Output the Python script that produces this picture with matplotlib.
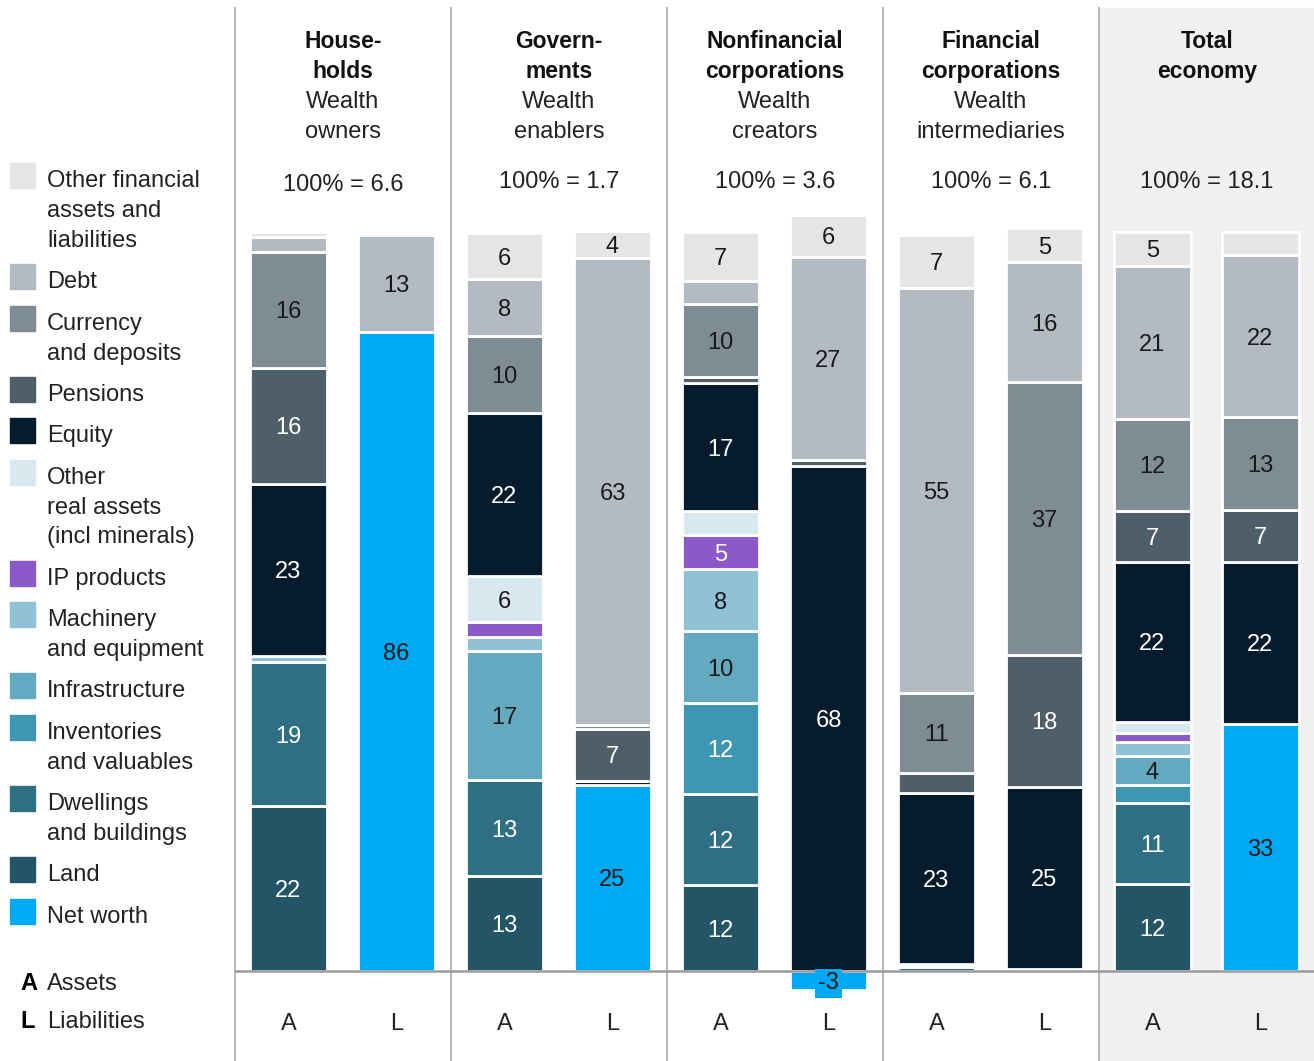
import matplotlib.pyplot as plt
from matplotlib.patches import Rectangle

plt.rcParams['font.family'] = ['Liberation Sans', 'DejaVu Sans']

# sectors and bars: each sector has an asset (A) and a liability (L) bar
sectors = ["House-\nholds", "Govern-\nments", "Nonfinancial\ncorporations",
           "Financial\ncorporations", "Total\neconomy"]
roles = ["Wealth\nowners", "Wealth\nenablers", "Wealth\ncreators",
         "Wealth\nintermediaries", ""]
totals = ["6.6", "1.7", "3.6", "6.1", "18.1"]

# share of total (%), bar order: HH A, HH L, Gov A, Gov L, NFC A, NFC L, FC A, FC L, Tot A, Tot L
net_worth      = [0, 86.4, 0, 25.2, 0, -2.6, 0, 0.3, 0, 33.4]
land           = [22.3, 0, 12.8, 0, 11.6, 0, 0, 0, 11.8, 0]
dwellings      = [19.4, 0, 13.0, 0, 12.3, 0, 0.5, 0, 10.9, 0]
inventories    = [0, 0, 0, 0, 12.3, 0, 0, 0, 2.4, 0]
infrastructure = [0, 0, 17.4, 0, 9.7, 0, 0, 0, 3.9, 0]
machinery      = [0.9, 0, 1.9, 0, 8.4, 0, 0, 0, 2.0, 0]
ip_products    = [0, 0, 2.0, 0, 4.6, 0, 0, 0, 1.2, 0]
other_real     = [0, 0, 6.3, 0, 3.2, 0, 0.4, 0, 1.5, 0]
equity         = [23.2, 0, 22.0, 0.5, 17.3, 68.2, 23.2, 24.6, 21.6, 21.9]
pensions       = [15.7, 0, 0, 7.0, 0.9, 0.9, 2.7, 17.8, 6.9, 7.0]
currency       = [15.7, 0, 10.4, 0.5, 9.8, 0, 10.8, 36.9, 12.4, 12.6]
debt           = [2.0, 13.1, 7.7, 63.2, 3.1, 27.4, 54.7, 16.2, 20.7, 21.8]
other_fin      = [0.6, 0.3, 6.2, 3.6, 6.6, 5.7, 7.2, 4.6, 4.6, 3.2]

# stacking order bottom -> top
series = [
    ("Net worth", net_worth, '#00a9f4', '#1a1a1a'),
    ("Land", land, '#235566', 'white'),
    ("Dwellings\nand buildings", dwellings, '#2e6f84', 'white'),
    ("Inventories\nand valuables", inventories, '#3e96b4', 'white'),
    ("Infrastructure", infrastructure, '#63aac1', '#1a1a1a'),
    ("Machinery\nand equipment", machinery, '#8ec2d4', '#1a1a1a'),
    ("IP products", ip_products, '#8b59c8', 'white'),
    ("Other\nreal assets\n(incl minerals)", other_real, '#d8e8ef', '#1a1a1a'),
    ("Equity", equity, '#061c2c', 'white'),
    ("Pensions", pensions, '#4f5f6a', 'white'),
    ("Currency\nand deposits", currency, '#7f8c94', '#1a1a1a'),
    ("Debt", debt, '#b3bac1', '#1a1a1a'),
    ("Other financial\nassets and\nliabilities", other_fin, '#e5e5e5', '#1a1a1a'),
]

W, H = 1314, 1061
px_per_pct = 7.4
base_y = 971
panel_w = 216
left = 235
fs = 17

fig = plt.figure(figsize=(W / 100, H / 100), dpi=100)

# background / annotation layer in pixel coordinates
bg = fig.add_axes([0, 0, 1, 1])
bg.set_xlim(0, W)
bg.set_ylim(H, 0)
bg.axis('off')
bg.add_patch(Rectangle((left + 4 * panel_w, 8), W - left - 4 * panel_w, H - 8,
                       color='#f0f0f0', zorder=0))
for i in range(5):
    x = left + i * panel_w
    bg.plot([x, x], [8, H], color='#b8b8b8', lw=1.5, zorder=1)

for i in range(5):
    cx = left + i * panel_w + panel_w / 2
    for j, line in enumerate(sectors[i].split("\n")):
        bg.text(cx, 48 + 30 * j, line, ha='center', va='baseline',
                fontsize=16.5, fontweight='bold', color='#111111')
    for j, line in enumerate(roles[i].split("\n")):
        if line:
            bg.text(cx, 108 + 30 * j, line, ha='center', va='baseline',
                    fontsize=fs, color='#222222')
    bg.text(cx, 191 if i == 0 else 188, "100% = " + totals[i], ha='center',
            va='baseline', fontsize=fs, color='#222222')

# legend (top entry first)
y = 163
for name, _, color, _ in series[::-1]:
    bg.add_patch(Rectangle((10, y), 25, 25, color=color, zorder=2))
    lines = name.split("\n")
    for j, line in enumerate(lines):
        bg.text(47, y + 24 + 30 * j, line, ha='left', va='baseline',
                fontsize=fs, color='#222222')
    y += 30 * len(lines) + 11.3
bg.text(20, 990, "A", ha='left', va='baseline', fontsize=fs, fontweight='bold')
bg.text(47, 990, "Assets", ha='left', va='baseline', fontsize=fs, color='#222222')
bg.text(20, 1028, "L", ha='left', va='baseline', fontsize=fs, fontweight='bold')
bg.text(47, 1028, "Liabilities", ha='left', va='baseline', fontsize=fs, color='#222222')

# bar layer
ax = fig.add_axes([left / W, 0, (W - left) / W, 1])
ax.patch.set_alpha(0)
ax.axis('off')
ax.set_xlim(0, (W - left) / panel_w)
ax.set_ylim(-(H - base_y) / px_per_pct, base_y / px_per_pct)

xs = []
for i in range(5):
    xs += [i + 53.5 / panel_w, i + 161.5 / panel_w]
bw = 77 / panel_w
cap = 8.5 / px_per_pct

bottoms = [0.0] * len(xs)
for name, vals, color, tcolor in series:
    for k, v in enumerate(vals):
        if v == 0:
            continue
        b = bottoms[k] if v > 0 else 0
        ax.bar(xs[k], v, bw, bottom=b, color=color, edgecolor='white',
               linewidth=2.0, zorder=2)
        mid = b + v / 2
        if v < 0:
            ax.text(xs[k], mid - cap, str(round(v)), ha='center', va='baseline',
                    fontsize=fs, color=tcolor, zorder=4,
                    bbox=dict(boxstyle='square,pad=0.15', fc=color, ec='none'))
        elif v >= 3.5:
            ax.text(xs[k], mid - cap, str(round(v)), ha='center', va='baseline',
                    fontsize=fs, color=tcolor, zorder=4)
        if v > 0:
            bottoms[k] += v

ax.axhline(0, color='#9a9a9a', lw=1.8, zorder=3)
for k, x in enumerate(xs):
    ax.text(x, -(1030 - base_y) / px_per_pct, "A" if k % 2 == 0 else "L",
            ha='center', va='baseline', fontsize=fs, color='#222222')

fig.savefig("out.png", dpi=100)
